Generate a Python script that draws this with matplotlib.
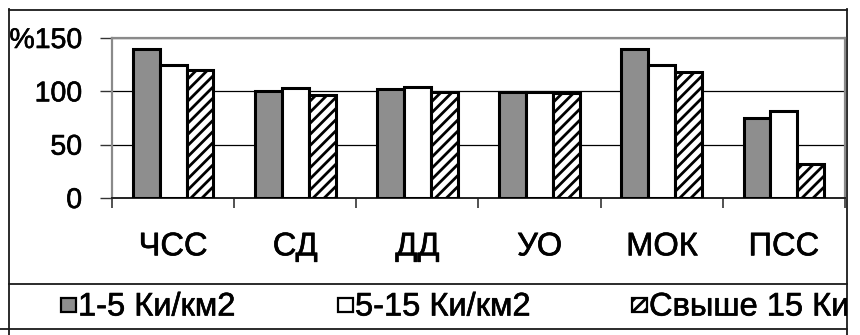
import numpy as np
import matplotlib
matplotlib.use("Agg")
from matplotlib import pyplot as plt
from matplotlib.patches import Rectangle
from matplotlib import patheffects as pe

plt.rcParams["font.family"] = ["Liberation Sans", "DejaVu Sans"]
plt.rcParams["hatch.linewidth"] = 2.0

# indicators and the three contamination zones
categories = ["ЧСС", "СД", "ДД", "УО", "МОК", "ПСС"]
zone_1_5 = [140, 100, 102, 99, 140, 75]
zone_5_15 = [125, 103, 104, 99, 125, 82]
zone_15_plus = [120, 97, 99, 98, 118, 32]
series_names = ["1-5 Ки/км2", "5-15 Ки/км2", "Свыше 15 Ки/км2"]
y_ticks = [0, 50, 100, 150]
y_tick_labels = ["0", "50", "100", "%150"]

W, H = 860, 335
fig = plt.figure(figsize=(W / 100, H / 100), dpi=100)
heavy = [pe.withStroke(linewidth=0.45, foreground="black")]

# pixel helper: (left, top, right, bottom) -> figure fraction box
def box(l, t, r, b):
    return [l / W, 1 - b / H, (r - l) / W, (b - t) / H]

# frame around the whole chart and the legend strip
frame = fig.add_axes([0, 0, 1, 1], zorder=0)
frame.set_xlim(0, W)
frame.set_ylim(H, 0)
frame.axis("off")
lc = "#1a1a1a"
frame.plot([9, 9], [9, H], color=lc, lw=1.3)
frame.plot([847, 847], [9, H], color=lc, lw=1.3)
frame.plot([9, 847], [9.5, 9.5], color=lc, lw=1.3)
frame.plot([9, 847], [284, 284], color=lc, lw=1.3)
frame.plot([0, 847], [329, 329], color=lc, lw=1.3)

ax = fig.add_axes(box(112, 38, 845, 198), zorder=2)
x = np.arange(len(categories))
bw = 0.22
styles = [
    dict(color="#8e8e8e", hatch=None),
    dict(color="white", hatch=None),
    dict(color="white", hatch="///"),
]
series = [zone_1_5, zone_5_15, zone_15_plus]
for k, (vals, st) in enumerate(zip(series, styles)):
    ax.bar(x + (k - 1) * bw, vals, width=bw, color=st["color"], hatch=st["hatch"],
           edgecolor="black", linewidth=2.2, zorder=3)

ax.set_xlim(-0.5, len(categories) - 0.5)
ax.set_ylim(0, 150)
ax.set_yticks(y_ticks)
ax.set_yticklabels(y_tick_labels, fontsize=20.5)
ax.tick_params(axis="y", direction="out", length=8.5, width=1, color="#333333", pad=13)
ax.set_xticks(x)
ax.set_xticklabels(categories, fontsize=23.5)
ax.tick_params(axis="x", length=0, pad=24)
ax.set_xticks(np.arange(len(categories) + 1) - 0.5, minor=True)
ax.tick_params(axis="x", which="minor", direction="out", length=7, width=1.2, color="#333333")
for t in ax.get_xticklabels() + ax.get_yticklabels():
    t.set_path_effects(heavy)
ax.grid(axis="y", color="black", lw=0.9, zorder=1)
for side in ["left", "right", "top"]:
    ax.spines[side].set_color("#8a8a8a")
    ax.spines[side].set_linewidth(1.6)
ax.spines["bottom"].set_color("#222222")
ax.spines["bottom"].set_linewidth(1.4)

# legend strip; the last entry runs past the right edge of the frame
leg = fig.add_axes(box(9, 284, 847, 329), zorder=3)
leg.set_xlim(9, 847)
leg.set_ylim(329, 284)
leg.axis("off")
marker_x = [61, 338, 632]
for mx, name, st in zip(marker_x, series_names, styles):
    leg.add_patch(Rectangle((mx, 298), 14.5, 14.5, facecolor=st["color"], hatch=st["hatch"],
                            edgecolor="black", linewidth=1.6))
    t = leg.text(mx + 17, 307, name, fontsize=23.5, va="center", ha="left",
                 path_effects=heavy)
    t.set_clip_box(leg.bbox)
    t.set_clip_on(True)

fig.savefig("out.png", dpi=100)
